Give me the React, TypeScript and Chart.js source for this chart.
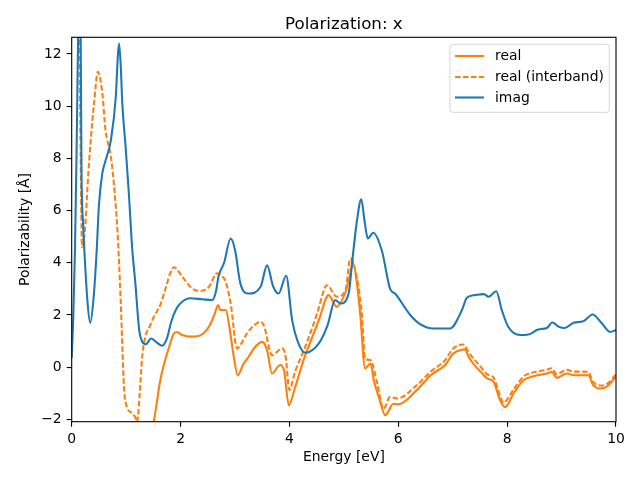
import React, { useEffect, useRef } from "react";
import { Chart, registerables } from "chart.js";

Chart.register(...registerables);

const TITLE = "Polarization: x";
const X_LABEL = "Energy [eV]";
const Y_LABEL = "Polarizability [Å]";
const LEGEND_LABELS = ["real", "real (interband)", "imag"];

const xTicks = [0, 2, 4, 6, 8, 10];
const yTicks = [-2, 0, 2, 4, 6, 8, 10, 12];

const imagE = [0, 0.03, 0.06, 0.09, 0.12, 0.15, 0.18, 0.21, 0.24, 0.29, 0.34, 0.4, 0.46, 0.5, 0.56, 0.62, 0.72, 0.81, 0.85, 0.87, 0.9, 0.93, 0.99, 1.05, 1.11, 1.17, 1.24, 1.29, 1.36, 1.46, 1.56, 1.66, 1.75, 1.83, 1.91, 2.0, 2.18, 2.4, 2.58, 2.65, 2.7, 2.8, 2.92, 3.0, 3.1, 3.25, 3.47, 3.59, 3.7, 3.8, 3.94, 4.05, 4.15, 4.29, 4.54, 4.7, 4.84, 4.94, 5.09, 5.15, 5.24, 5.32, 5.38, 5.44, 5.54, 5.7, 5.85, 5.94, 6.22, 6.4, 6.65, 6.95, 7.17, 7.26, 7.41, 7.57, 7.66, 7.8, 7.9, 8.02, 8.24, 8.39, 8.57, 8.73, 8.83, 8.95, 9.06, 9.22, 9.4, 9.57, 9.74, 9.89, 10];
const imagV = [0.35, 2.0, 4.5, 8.3, 13, 17, 7.5, 5.5, 4.2, 2.5, 1.7, 2.6, 4.5, 6.2, 7.4, 7.9, 8.7, 10.36, 12.0, 12.4, 11.6, 10.1, 8.45, 6.66, 4.6, 3.2, 1.42, 1.0, 0.88, 1.1, 0.95, 0.82, 1.1, 1.75, 2.18, 2.45, 2.64, 2.6, 2.57, 2.9, 3.5, 4.0, 4.93, 4.5, 3.2, 2.82, 3.08, 3.9, 3.1, 2.82, 3.5, 1.8, 1.0, 0.55, 0.91, 1.6, 2.57, 2.44, 2.84, 3.98, 5.6, 6.43, 5.6, 4.93, 5.15, 4.45, 3.0, 2.82, 2.0, 1.65, 1.48, 1.48, 2.19, 2.66, 2.76, 2.8, 2.7, 2.91, 2.2, 1.55, 1.23, 1.25, 1.44, 1.5, 1.71, 1.55, 1.5, 1.7, 1.76, 2.02, 1.68, 1.35, 1.42];

const realE = [0.5, 0.8, 1.0, 1.2, 1.4, 1.51, 1.63, 1.79, 1.88, 1.93, 2.03, 2.2, 2.37, 2.52, 2.62, 2.69, 2.73, 2.83, 2.9, 2.97, 3.05, 3.15, 3.25, 3.38, 3.5, 3.59, 3.68, 3.83, 3.9, 3.99, 4.1, 4.26, 4.4, 4.54, 4.72, 4.87, 5.03, 5.1, 5.17, 5.24, 5.3, 5.39, 5.49, 5.55, 5.65, 5.76, 5.91, 6.0, 6.34, 6.6, 6.86, 7.01, 7.14, 7.23, 7.29, 7.54, 7.63, 7.75, 7.87, 7.96, 8.12, 8.3, 8.48, 8.73, 8.82, 8.91, 9.1, 9.22, 9.49, 9.58, 9.71, 9.83, 10];
const realV = [-35, -13, -8, -5, -3, -2.06, -0.47, 0.78, 1.3, 1.35, 1.23, 1.17, 1.23, 1.55, 2.0, 2.38, 2.19, 2.19, 1.5, 0.5, -0.31, 0.1, 0.4, 0.8, 0.97, 0.65, -0.24, 0.08, -0.11, -1.46, -0.8, 0.27, 1.05, 1.8, 2.76, 2.31, 2.88, 3.4, 3.98, 3.2, 2.06, -0.05, 0.14, -0.5, -1.2, -1.84, -1.4, -1.42, -0.88, -0.3, 0.08, 0.52, 0.65, 0.68, 0.4, -0.24, -0.43, -0.56, -1.27, -1.53, -1.0, -0.5, -0.35, -0.24, -0.18, -0.41, -0.24, -0.31, -0.31, -0.69, -0.82, -0.75, -0.37];

const interE = [0, 0.1, 0.14, 0.165, 0.19, 0.22, 0.26, 0.29, 0.35, 0.41, 0.48, 0.56, 0.62, 0.72, 0.78, 0.84, 0.9, 0.96, 1.02, 1.1, 1.17, 1.2, 1.25, 1.29, 1.35, 1.42, 1.51, 1.63, 1.75, 1.81, 1.88, 2.03, 2.21, 2.37, 2.52, 2.67, 2.73, 2.83, 2.92, 3.04, 3.1, 3.22, 3.35, 3.47, 3.53, 3.68, 3.87, 3.93, 4.0, 4.1, 4.29, 4.5, 4.66, 4.69, 4.87, 5.03, 5.12, 5.19, 5.33, 5.39, 5.49, 5.6, 5.73, 5.85, 5.98, 6.34, 6.59, 6.86, 7.01, 7.2, 7.29, 7.54, 7.63, 7.75, 7.87, 7.93, 8.12, 8.3, 8.48, 8.73, 8.82, 8.91, 9.1, 9.22, 9.49, 9.58, 9.71, 9.83, 10];
const interV = [14, 16, 13, 8, 4.6, 4.8, 5.75, 6.9, 8.7, 10.1, 11.32, 10.55, 9.1, 8.07, 6.9, 5.25, 2.57, -0.75, -1.55, -1.75, -1.93, -2.1, -1.0, 0.28, 1.16, 1.5, 1.93, 2.4, 3.2, 3.6, 3.83, 3.47, 3.02, 2.92, 3.08, 3.6, 3.53, 3.27, 2.45, 0.72, 0.85, 1.3, 1.6, 1.74, 1.6, 0.46, 0.72, 0.4, -0.88, -0.2, 0.78, 2.0, 3.08, 3.14, 2.7, 2.95, 4.16, 3.9, 2.06, 0.33, 0.27, -0.5, -1.59, -1.14, -1.2, -0.69, -0.18, 0.27, 0.72, 0.87, 0.58, -0.05, -0.27, -0.4, -1.1, -1.36, -0.85, -0.36, -0.2, -0.1, -0.04, -0.27, -0.1, -0.17, -0.18, -0.56, -0.7, -0.65, -0.28];

const ORANGE = "#ff7f0e";
const BLUE = "#1f77b4";
const FONT = "'DejaVu Sans', sans-serif";
const LW = 2.08;
const DASH = [5.55, 2.4];

const pts = (xs: number[], ys: number[]) => xs.map((x, i) => ({ x, y: ys[i] }));

const decorPlugin = {
  id: "decor",
  afterDraw(chart: any) {
    const { ctx, chartArea: a } = chart;
    ctx.save();
    // frame
    ctx.strokeStyle = "#000";
    ctx.lineWidth = 1.1;
    ctx.setLineDash([]);
    ctx.strokeRect(a.left, a.top, a.right - a.left, a.bottom - a.top);
    // title
    ctx.fillStyle = "#000";
    ctx.font = `16.7px ${FONT}`;
    ctx.textAlign = "center";
    ctx.textBaseline = "alphabetic";
    ctx.fillText(TITLE, (a.left + a.right) / 2, 29);
    // axis labels
    ctx.font = `13.9px ${FONT}`;
    ctx.textBaseline = "middle";
    ctx.fillText(X_LABEL, (a.left + a.right) / 2, 457);
    ctx.save();
    ctx.translate(25.5, (a.top + a.bottom) / 2);
    ctx.rotate(-Math.PI / 2);
    ctx.fillText(Y_LABEL, 0, 0);
    ctx.restore();
    // legend
    const bx = 450, by = 44.3, bw = 159.3, bh = 68, r = 3;
    ctx.beginPath();
    ctx.moveTo(bx + r, by);
    ctx.lineTo(bx + bw - r, by);
    ctx.arcTo(bx + bw, by, bx + bw, by + r, r);
    ctx.lineTo(bx + bw, by + bh - r);
    ctx.arcTo(bx + bw, by + bh, bx + bw - r, by + bh, r);
    ctx.lineTo(bx + r, by + bh);
    ctx.arcTo(bx, by + bh, bx, by + bh - r, r);
    ctx.lineTo(bx, by + r);
    ctx.arcTo(bx, by, bx + r, by, r);
    ctx.closePath();
    ctx.fillStyle = "rgba(255,255,255,0.8)";
    ctx.fill();
    ctx.strokeStyle = "rgba(204,204,204,0.8)";
    ctx.lineWidth = 1;
    ctx.stroke();
    const rows = [
      { y: 56, color: ORANGE, dash: [] as number[] },
      { y: 77, color: ORANGE, dash: DASH },
      { y: 97.5, color: BLUE, dash: [] as number[] },
    ];
    rows.forEach((row, i) => {
      ctx.beginPath();
      ctx.strokeStyle = row.color;
      ctx.lineWidth = LW;
      ctx.setLineDash(row.dash);
      ctx.moveTo(455, row.y);
      ctx.lineTo(484, row.y);
      ctx.stroke();
      ctx.setLineDash([]);
      ctx.fillStyle = "#000";
      ctx.font = `13.9px ${FONT}`;
      ctx.textAlign = "left";
      ctx.textBaseline = "middle";
      ctx.fillText(LEGEND_LABELS[i], 495, row.y + 0.5);
    });
    ctx.restore();
  },
};

export default function App() {
  const ref = useRef<HTMLCanvasElement | null>(null);
  useEffect(() => {
    if (!ref.current) return;
    const chart = new Chart(ref.current, {
      type: "line",
      data: {
        datasets: [
          {
            label: LEGEND_LABELS[2],
            data: pts(imagE, imagV),
            borderColor: BLUE,
            borderWidth: LW,
            order: 0,
          },
          {
            label: LEGEND_LABELS[1],
            data: pts(interE, interV),
            borderColor: ORANGE,
            borderWidth: LW,
            borderDash: DASH,
            order: 1,
          },
          {
            label: LEGEND_LABELS[0],
            data: pts(realE, realV),
            borderColor: ORANGE,
            borderWidth: LW,
            order: 2,
          },
        ],
      },
      plugins: [decorPlugin],
      options: {
        animation: false,
        responsive: false,
        events: [],
        layout: { padding: { left: 0, top: 37.3, right: 24, bottom: 0 } },
        elements: {
          point: { radius: 0 },
          line: { cubicInterpolationMode: "monotone", capBezierPoints: false, fill: false },
        },
        plugins: { legend: { display: false }, title: { display: false }, tooltip: { enabled: false } },
        scales: {
          x: {
            type: "linear",
            min: 0,
            max: 10,
            afterFit: (s: any) => { s.height = 58.3; },
            afterBuildTicks: (s: any) => { s.ticks = xTicks.map((v) => ({ value: v })); },
            grid: { drawOnChartArea: false, drawTicks: true, tickLength: 5, color: "#000", lineWidth: 1.1 },
            border: { display: false },
            ticks: { color: "#000", font: { family: FONT, size: 13.9 }, padding: 4, maxRotation: 0, callback: (v: any) => String(v) },
          },
          y: {
            type: "linear",
            min: -2.09,
            max: 12.64,
            afterFit: (s: any) => { s.width = 71.7; },
            afterBuildTicks: (s: any) => { s.ticks = yTicks.map((v) => ({ value: v })); },
            grid: { drawOnChartArea: false, drawTicks: true, tickLength: 5, color: "#000", lineWidth: 1.1 },
            border: { display: false },
            ticks: {
              color: "#000",
              font: { family: FONT, size: 13.9 },
              padding: 5,
              callback: (v: any) => (Number(v) < 0 ? "\u2212" + String(Math.abs(Number(v))) : String(v)),
            },
          },
        },
      } as any,
    });
    return () => chart.destroy();
  }, []);
  return (
    <div style={{ position: "fixed", left: 0, top: 0, width: 640, height: 480, background: "#fff" }}>
      <canvas ref={ref} width={640} height={480} style={{ width: 640, height: 480, display: "block" }} />
    </div>
  );
}
